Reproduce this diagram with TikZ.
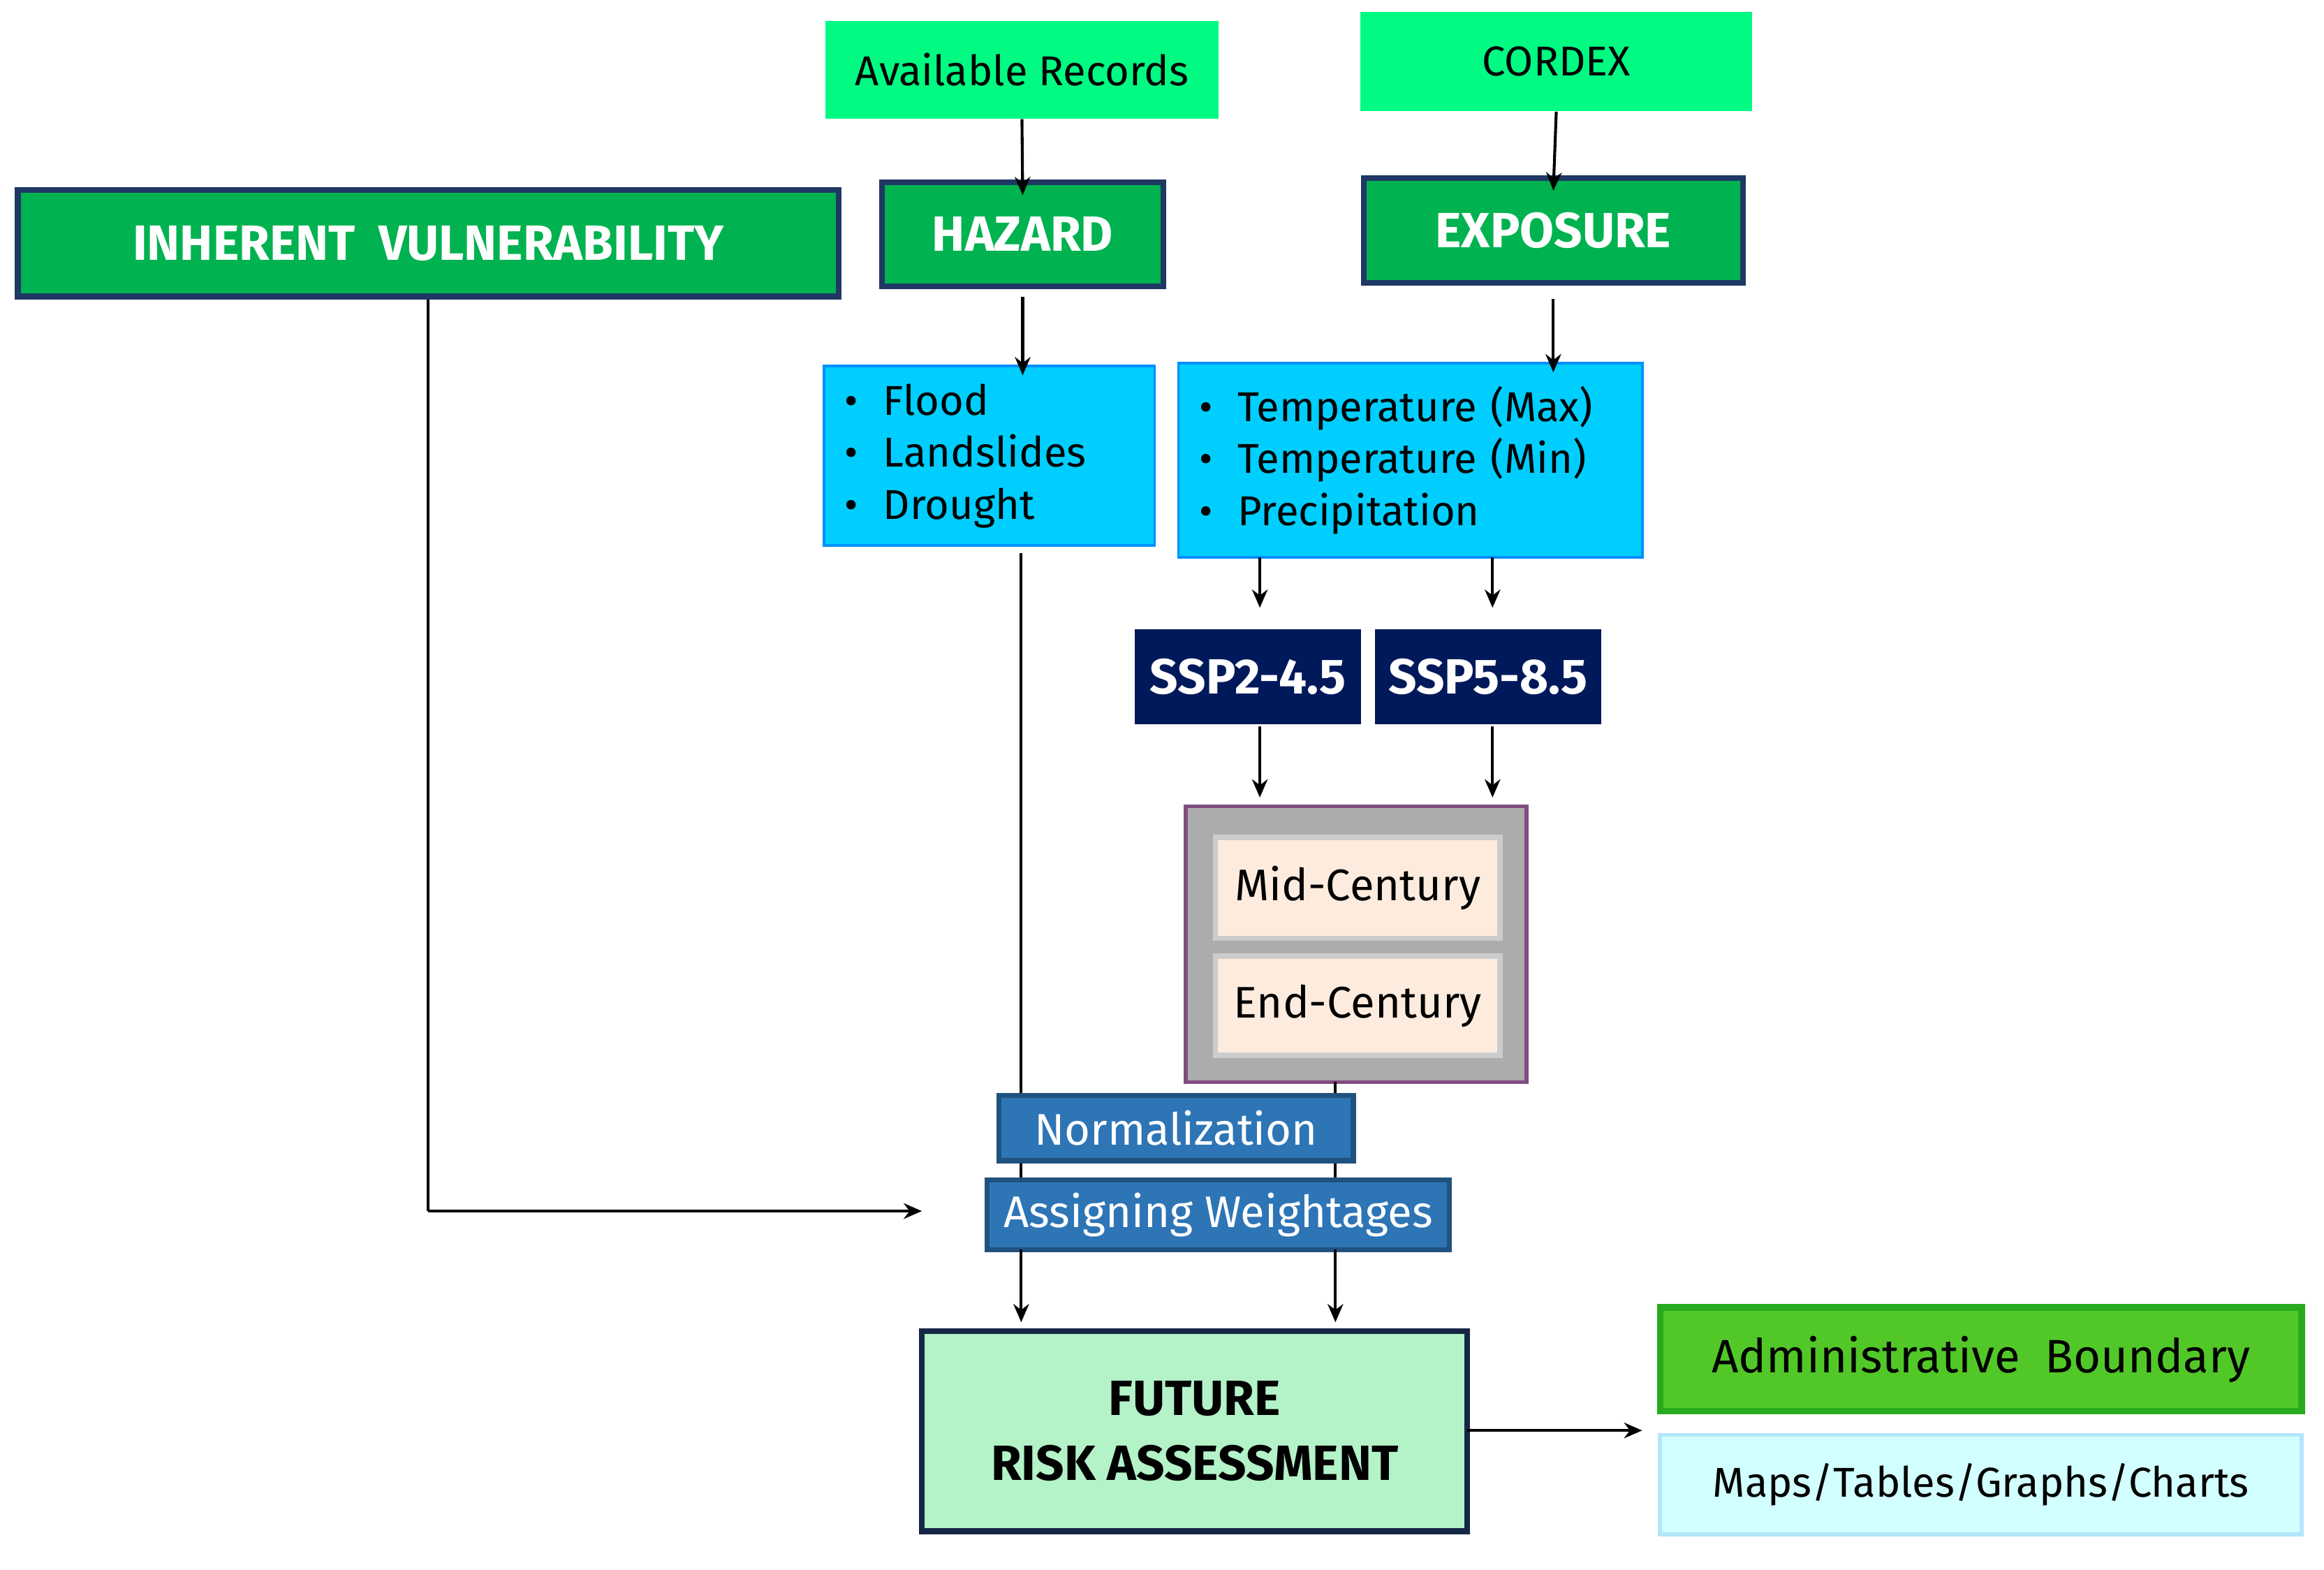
\documentclass[tikz,border=0pt]{standalone}
\usepackage{fontspec}
\setmainfont{Fira Sans}
\usetikzlibrary{arrows.meta}
\definecolor{brightgreen}{RGB}{0,250,130}
\definecolor{boxgreen}{RGB}{0,178,80}
\definecolor{darkblue}{RGB}{31,56,100}
\definecolor{cyanbox}{RGB}{0,206,255}
\definecolor{navybox}{RGB}{0,25,90}
\definecolor{bluebox}{RGB}{46,117,182}
\definecolor{lightgreen}{RGB}{180,242,200}
\definecolor{admgreen}{RGB}{82,200,40}
\definecolor{admborder}{RGB}{40,170,30}
\definecolor{lightcyan}{RGB}{210,255,255}
\definecolor{linen}{RGB}{253,236,222}
\begin{document}
\begin{tikzpicture}[x=0.02cm,y=-0.02cm,
  base/.style={draw, rectangle, inner sep=0pt, font=\fontsize{16}{20}\selectfont},
  src/.style={base, draw=none, fill=brightgreen},
  main/.style={base, fill=boxgreen, draw=darkblue, line width=2.2pt, text=white,
    font=\fontsize{19}{22}\selectfont\bfseries},
  list/.style={base, fill=cyanbox, draw=cyanbox!70!blue, line width=1pt, align=left},
  ssp/.style={base, fill=navybox, draw=navybox, text=white, font=\fontsize{19}{22}\selectfont\bfseries},
  era/.style={base, fill=linen, draw=gray!40, line width=2pt, font=\fontsize{17}{20}\selectfont},
  procbox/.style={base, fill=bluebox, draw=bluebox!70!black, line width=2pt, text=white,
    font=\fontsize{17}{20}\selectfont},
  arr/.style={-{Stealth[length=7pt,width=6pt]}, line width=1.1pt},
  ln/.style={line width=1.1pt}
]
\useasboundingbox (0,0) rectangle (1568,1059);

\node[src, minimum width=5.3cm, minimum height=1.32cm] (avail) at (689.5,47) {Available Records};
\node[src, minimum width=5.28cm, minimum height=1.34cm] (cordex) at (1050,41.5) {CORDEX};
\node[main, minimum width=11.08cm, minimum height=1.44cm] (iv) at (289,164) {INHERENT\ \ VULNERABILITY};
\node[main, minimum width=3.8cm, minimum height=1.4cm] (hazard) at (690,158) {HAZARD};
\node[main, minimum width=5.12cm, minimum height=1.42cm] (exposure) at (1048,155.5) {EXPOSURE};

\node[list, minimum width=4.46cm, minimum height=2.42cm, text width=3.9cm] (flood) at (667.5,307.5)
  {\textbullet\hspace{0.6em}Flood\\ \textbullet\hspace{0.6em}Landslides\\ \textbullet\hspace{0.6em}Drought};
\node[list, minimum width=6.26cm, minimum height=2.62cm, text width=5.7cm] (temp) at (951.5,310.5)
  {\textbullet\hspace{0.6em}Temperature (Max)\\ \textbullet\hspace{0.6em}Temperature (Min)\\ \textbullet\hspace{0.6em}Precipitation};

\node[ssp, minimum width=3.04cm, minimum height=1.26cm] (ssp2) at (842,456.5) {SSP2-4.5};
\node[ssp, minimum width=3.04cm, minimum height=1.26cm] (ssp5) at (1004,456.5) {SSP5-8.5};

\node[base, fill=gray!65, draw=violet!40!gray, line width=1.5pt, minimum width=4.6cm, minimum height=3.72cm] (grey) at (915,637) {};
\node[era, minimum width=3.84cm, minimum height=1.36cm] (mid) at (916,599) {Mid-Century};
\node[era, minimum width=3.84cm, minimum height=1.34cm] (end) at (916,678.5) {End-Century};

\node[procbox, minimum width=4.78cm, minimum height=0.88cm] (norm) at (793.5,761) {Normalization};
\node[procbox, minimum width=6.24cm, minimum height=0.94cm] (assign) at (822,819.5) {Assigning Weightages};

\node[base, fill=lightgreen, draw=darkblue!70!black, line width=2.2pt, minimum width=7.36cm, minimum height=2.7cm,
  align=center, font=\fontsize{19}{25}\selectfont\bfseries] (fra) at (806,965.5) {FUTURE\\RISK ASSESSMENT};
\node[base, fill=admgreen, draw=admborder, line width=2.5pt, minimum width=8.66cm, minimum height=1.4cm,
  font=\fontsize{18}{22}\selectfont] (adm) at (1336.5,917) {Administrative\ \ Boundary};
\node[base, fill=lightcyan, draw=cyan!30, line width=1.5pt, minimum width=8.66cm, minimum height=1.34cm] (maps) at (1336.5,1001.5) {Maps/Tables/Graphs/Charts};

% helper coordinates
\coordinate (tA) at (850,376);  \coordinate (sA) at (850,410);
\coordinate (tB) at (1007,376); \coordinate (sB) at (1007,410);
\coordinate (pA) at (850,490);  \coordinate (gA) at (850,538);
\coordinate (pB) at (1007,490); \coordinate (gB) at (1007,538);
\coordinate (fl) at (689,373);
\coordinate (ivc) at (289,817); \coordinate (ive) at (622,817);
\coordinate (a1) at (689,843);  \coordinate (f1) at (689,892);
\coordinate (a2) at (901,843);  \coordinate (f2) at (901,892);
\coordinate (g1) at (901,730);
\coordinate (fr) at (990,965);  \coordinate (mr) at (1108,965);

\draw[arr] (avail.south) -- ([yshift=-6pt]hazard.north);
\draw[arr] (cordex.south) -- ([yshift=-6pt]exposure.north);
\draw[arr] ([yshift=-3pt]hazard.south) -- ([yshift=-4pt]flood.north -| hazard.south);
\draw[arr] ([yshift=-5pt]exposure.south) -- ([yshift=-4pt]temp.north -| exposure.south);
\draw[arr] (tA) -- (sA);
\draw[arr] (tB) -- (sB);
\draw[arr] (pA) -- (gA);
\draw[arr] (pB) -- (gB);
\draw[ln] (fl) -- (norm.north -| fl);
\draw[ln] (norm.south -| fl) -- (assign.north -| fl);
\draw[ln] (g1) -- (norm.north -| g1);
\draw[ln] (norm.south -| g1) -- (assign.north -| g1);
\draw[ln] (iv.south) -- (ivc);
\draw[arr] (ivc) -- (ive);
\draw[arr] (a1) -- (f1);
\draw[arr] (a2) -- (f2);
\draw[arr] (fr) -- (mr);
\end{tikzpicture}
\end{document}
